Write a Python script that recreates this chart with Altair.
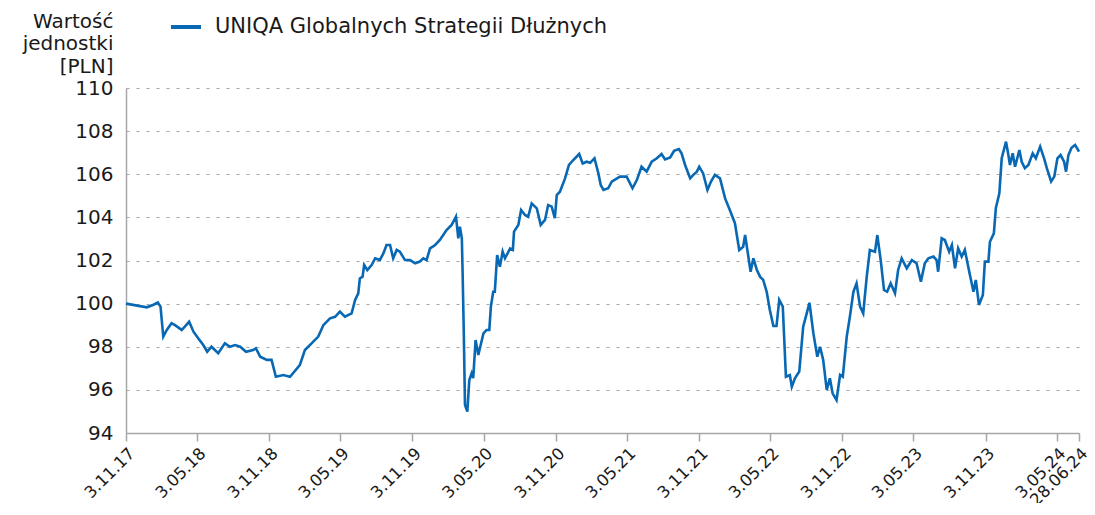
import altair as alt
import pandas as pd

# days since 3.11.2017 and unit value [PLN]
days = [0, 53, 70, 81, 88, 95, 104, 116, 125, 142, 150, 161, 172, 184, 197, 207, 218, 235, 252, 265,
        278, 291, 306, 324, 331, 342, 359, 371, 382, 401, 418, 443, 456, 473, 490, 503, 520, 533, 545, 558,
        575, 584, 592, 596, 603, 607, 615, 626, 635, 647, 656, 664, 673, 681, 690, 698, 711, 724, 737, 749,
        758, 766, 775, 788, 800, 817, 830, 841, 847, 851, 856, 858, 861, 864, 870, 875, 881, 885, 891, 898,
        911, 919, 926, 930, 936, 940, 946, 953, 960, 966, 979, 986, 989, 1000, 1007, 1017, 1025, 1034, 1047, 1057,
        1068, 1076, 1085, 1093, 1098, 1106, 1119, 1129, 1140, 1155, 1164, 1174, 1183, 1194, 1204, 1210, 1217, 1229, 1238, 1259,
        1276, 1291, 1302, 1314, 1327, 1340, 1353, 1365, 1374, 1387, 1397, 1409, 1416, 1425, 1438, 1446, 1455, 1461, 1471, 1482,
        1491, 1501, 1514, 1527, 1539, 1552, 1563, 1573, 1578, 1585, 1592, 1599, 1608, 1616, 1624, 1633, 1641, 1650, 1658, 1665,
        1674, 1682, 1692, 1697, 1705, 1716, 1726, 1735, 1742, 1752, 1762, 1769, 1777, 1786, 1794, 1801, 1811, 1820, 1827, 1837,
        1845, 1854, 1862, 1871, 1879, 1888, 1896, 1909, 1915, 1924, 1932, 1940, 1949, 1960, 1968, 1977, 1990, 2003, 2015, 2026,
        2036, 2045, 2058, 2066, 2070, 2079, 2087, 2098, 2105, 2113, 2121, 2130, 2138, 2151, 2160, 2166, 2174, 2184, 2189, 2198,
        2202, 2212, 2217, 2226, 2232, 2243, 2249, 2253, 2260, 2266, 2277, 2283, 2291, 2300, 2311, 2319, 2330, 2340, 2347, 2358,
        2366, 2374, 2382, 2391, 2396, 2402, 2410, 2419, 2429]

values = [100.00, 99.83, 99.95, 100.05, 99.86, 98.47, 98.78, 99.09, 99.00, 98.78, 98.93, 99.16, 98.70, 98.39, 98.08, 97.77, 98.00, 97.70, 98.16, 98.00,
          98.08, 98.00, 97.77, 97.85, 97.93, 97.54, 97.39, 97.39, 96.61, 96.69, 96.61, 97.15, 97.85, 98.16, 98.47, 99.00, 99.32, 99.39, 99.63, 99.39,
          99.55, 100.17, 100.48, 101.17, 101.25, 101.79, 101.56, 101.79, 102.10, 102.02, 102.33, 102.72, 102.72, 102.10, 102.49, 102.41, 102.02, 102.02, 101.87, 101.95,
          102.10, 102.02, 102.56, 102.72, 102.95, 103.41, 103.65, 104.03, 103.03, 103.57, 103.03, 101.41, 98.62, 95.30, 94.99, 96.46, 96.77, 96.54, 98.31, 97.62,
          98.62, 98.78, 98.78, 99.86, 100.55, 100.55, 102.25, 101.71, 102.41, 102.10, 102.56, 102.49, 103.34, 103.65, 104.34, 104.11, 104.03, 104.65, 104.42, 103.65,
          103.88, 104.57, 104.50, 103.96, 105.04, 105.19, 105.81, 106.43, 106.66, 106.94, 106.50, 106.58, 106.53, 106.74, 106.04, 105.50, 105.27, 105.35, 105.66, 105.89,
          105.89, 105.35, 105.73, 106.35, 106.12, 106.58, 106.74, 106.94, 106.69, 106.78, 107.09, 107.17, 106.97, 106.43, 105.81, 105.97, 106.12, 106.35, 106.04, 105.27,
          105.66, 105.97, 105.81, 104.88, 104.34, 103.73, 102.49, 102.64, 103.18, 102.33, 101.48, 102.10, 101.56, 101.25, 101.10, 100.55, 99.70, 98.96, 98.96, 100.17,
          99.86, 96.61, 96.69, 96.15, 96.54, 96.85, 98.93, 99.55, 100.04, 98.62, 97.54, 98.00, 97.39, 96.00, 96.54, 95.84, 95.53, 96.69, 96.61, 98.47,
          99.39, 100.55, 100.94, 99.86, 99.55, 101.25, 102.49, 102.41, 103.18, 101.95, 100.63, 100.55, 100.94, 100.48, 101.56, 102.10, 101.64, 102.02, 101.87, 101.02,
          101.87, 102.10, 102.18, 102.02, 101.48, 103.03, 102.95, 102.41, 102.72, 101.64, 102.56, 102.18, 102.49, 101.33, 100.55, 101.10, 99.94, 100.40, 101.95, 101.95,
          102.87, 103.26, 104.42, 105.12, 106.74, 107.51, 106.89, 106.43, 106.97, 106.35, 107.12, 106.58, 106.28, 106.43, 106.97, 106.74, 107.28, 106.74, 106.28, 105.66,
          105.89, 106.74, 106.89, 106.58, 106.12, 106.89, 107.23, 107.36, 107.05]

series_name = "UNIQA Globalnych Strategii Dłużnych"
start_date = "2017-11-03"
end_date = "2024-06-28"
tick_dates = ["2017-11-03", "2018-05-03", "2018-11-03", "2019-05-03", "2019-11-03", "2020-05-03",
              "2020-11-03", "2021-05-03", "2021-11-03", "2022-05-03", "2022-11-03", "2023-05-03",
              "2023-11-03", "2024-05-03", "2024-06-28"]
y_ticks = [94, 96, 98, 100, 102, 104, 106, 108, 110]

dates = (pd.Timestamp(start_date) + pd.to_timedelta(days, unit="D")).strftime("%Y-%m-%d")
df = pd.DataFrame({"date": dates, "value": values, "series": series_name})

def dt(s):
    y, m, d = map(int, s.split("-"))
    return alt.DateTime(year=y, month=m, date=d, utc=True)

FONT = "DejaVu Sans"
BLUE = "#0868b4"
GRAY = "#a6a6a6"
TXT = "#1a1a1a"

chart = alt.Chart(df).mark_line(strokeWidth=2.6, color=BLUE).encode(
    x=alt.X("date:T",
            scale=alt.Scale(type="utc", domain=[dt(start_date), dt(end_date)], nice=False),
            axis=alt.Axis(values=[dt(s) for s in tick_dates],
                          labelExpr="utcFormat(datum.value, '%-d.%m.%y')",
                          labelAngle=-45, labelAlign="right", labelBaseline="top",
                          labelOverlap=False, labelFlush=False, labelBound=False,
                          labelFontSize=16.5, labelColor=TXT, labelPadding=4,
                          domainColor=GRAY, domainWidth=1.5, tickColor=GRAY, tickWidth=1.5, tickSize=8,
                          grid=False, title=None)),
    y=alt.Y("value:Q",
            scale=alt.Scale(domain=[94, 110], nice=False, zero=False),
            axis=alt.Axis(values=y_ticks, labelFontSize=20, labelColor=TXT, labelPadding=13,
                          ticks=False, tickSize=0, domainColor=GRAY, domainWidth=1.5,
                          grid=True, gridColor=GRAY, gridDash=[3, 7], gridWidth=1,
                          title=["Wartość", "jednostki", "[PLN]"], titleAngle=0, titleAlign="right",
                          titleBaseline="alphabetic", titleX=-13, titleY=-61, titleLineHeight=22.5,
                          titleFontSize=20, titleFontWeight="normal", titleColor=TXT)),
    color=alt.Color("series:N", scale=alt.Scale(range=[BLUE]),
                    legend=alt.Legend(title=None, orient="none", legendX=45, legendY=-76,
                                      symbolType="M-1,-0.1333H1V0.1333H-1Z", symbolSize=900,
                                      symbolFillColor=BLUE, symbolStrokeWidth=0,
                                      labelFontSize=21, labelColor=TXT, labelOffset=14,
                                      labelLimit=600, padding=0)),
).properties(
    width=953, height=345,
    autosize=alt.AutoSizeParams(type="none"),
    padding={"left": 118, "top": 80, "right": 8, "bottom": 70},
).configure(font=FONT).configure_view(stroke=None)

chart.save("out.html", embed_options={"renderer": "svg", "actions": False})
